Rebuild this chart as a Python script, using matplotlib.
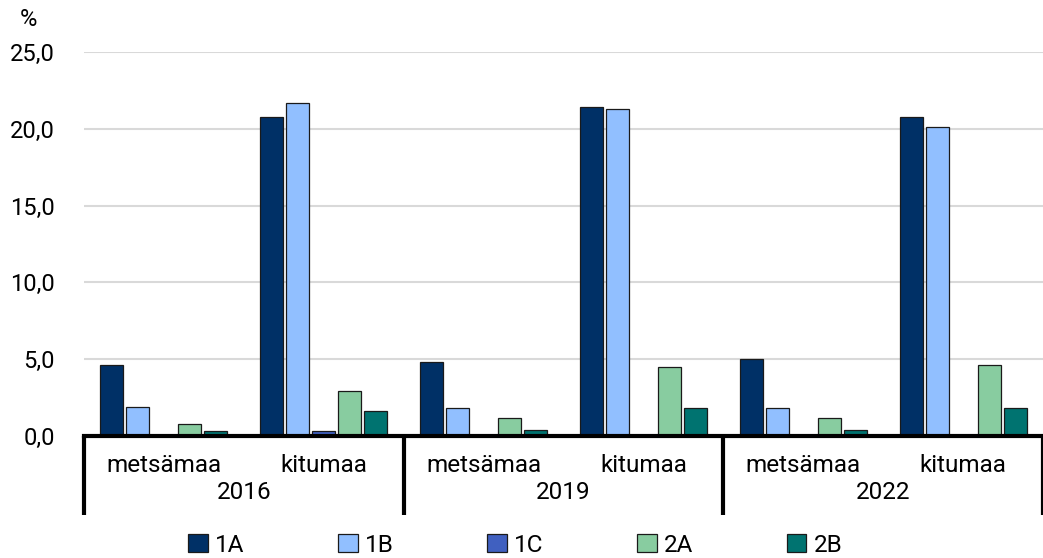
import matplotlib.pyplot as plt
import numpy as np

plt.rcParams['font.family'] = ['Roboto', 'DejaVu Sans']

years = ["2016", "2019", "2022"]
land = ["metsämaa", "kitumaa"]
series = ["1A", "1B", "1C", "2A", "2B"]
colors = ["#003066", "#91bfff", "#4060c0", "#88cca0", "#007370"]

# values per category: 2016 metsämaa, 2016 kitumaa, 2019 ..., 2022 ...
s1A = [4.6, 20.8, 4.8, 21.4, 5.0, 20.8]
s1B = [1.9, 21.7, 1.8, 21.3, 1.8, 20.1]
s1C = [0.0, 0.3, 0.0, 0.05, 0.05, 0.05]
s2A = [0.8, 2.9, 1.2, 4.5, 1.2, 4.6]
s2B = [0.3, 1.6, 0.4, 1.8, 0.4, 1.8]
data = [s1A, s1B, s1C, s2A, s2B]

fig = plt.figure(figsize=(10.43, 5.58), dpi=100)
ax = fig.add_axes([84 / 1043, 1 - 436 / 558, 1 - 84 / 1043, (436 - 52) / 558])

x = np.arange(6)
step = 0.1625
w = 0.144
for i, (vals, c) in enumerate(zip(data, colors)):
    ax.bar(x + (i - 2) * step, vals, width=w, color=c, edgecolor="#1a1a1a",
           linewidth=0.9, label=series[i], zorder=3)

ax.set_xlim(-0.5, 5.5)
ax.set_ylim(0, 25)
ax.set_yticks(np.arange(0, 26, 5))
ax.set_yticklabels([f"{v:.1f}".replace(".", ",") for v in np.arange(0, 26, 5)], fontsize=17)
ax.yaxis.grid(True, color="#d9d9d9", linewidth=1.5, zorder=0)
ax.tick_params(axis="y", length=0, pad=21)
ax.set_xticks([])
for s in ["top", "right", "left"]:
    ax.spines[s].set_visible(False)
ax.spines["bottom"].set_linewidth(3)
ax.spines["bottom"].set_zorder(5)

trans = ax.get_xaxis_transform()
for xi, lab in zip(x, land * 3):
    ax.text(xi, -0.078, lab, transform=trans, ha="center", va="center", fontsize=17.5)
for k, yr in enumerate(years):
    ax.text(2 * k + 0.5, -0.148, yr, transform=trans, ha="center", va="center", fontsize=17.5)
for sx in [-0.5, 1.5, 3.5, 5.5]:
    ax.plot([sx, sx], [0, -0.206], transform=trans, color="black", linewidth=3,
            clip_on=False, solid_capstyle="butt")

fig.text(20 / 1043, 1 - 20 / 558, "%", fontsize=17, ha="left", va="center")

fig.legend(loc="center", bbox_to_anchor=(0.494, 1 - 545 / 558), ncol=5, frameon=False,
           fontsize=17.5, handlelength=0.8, handleheight=0.8, handletextpad=0.3,
           columnspacing=3.85)

fig.savefig("out.png", dpi=100)
